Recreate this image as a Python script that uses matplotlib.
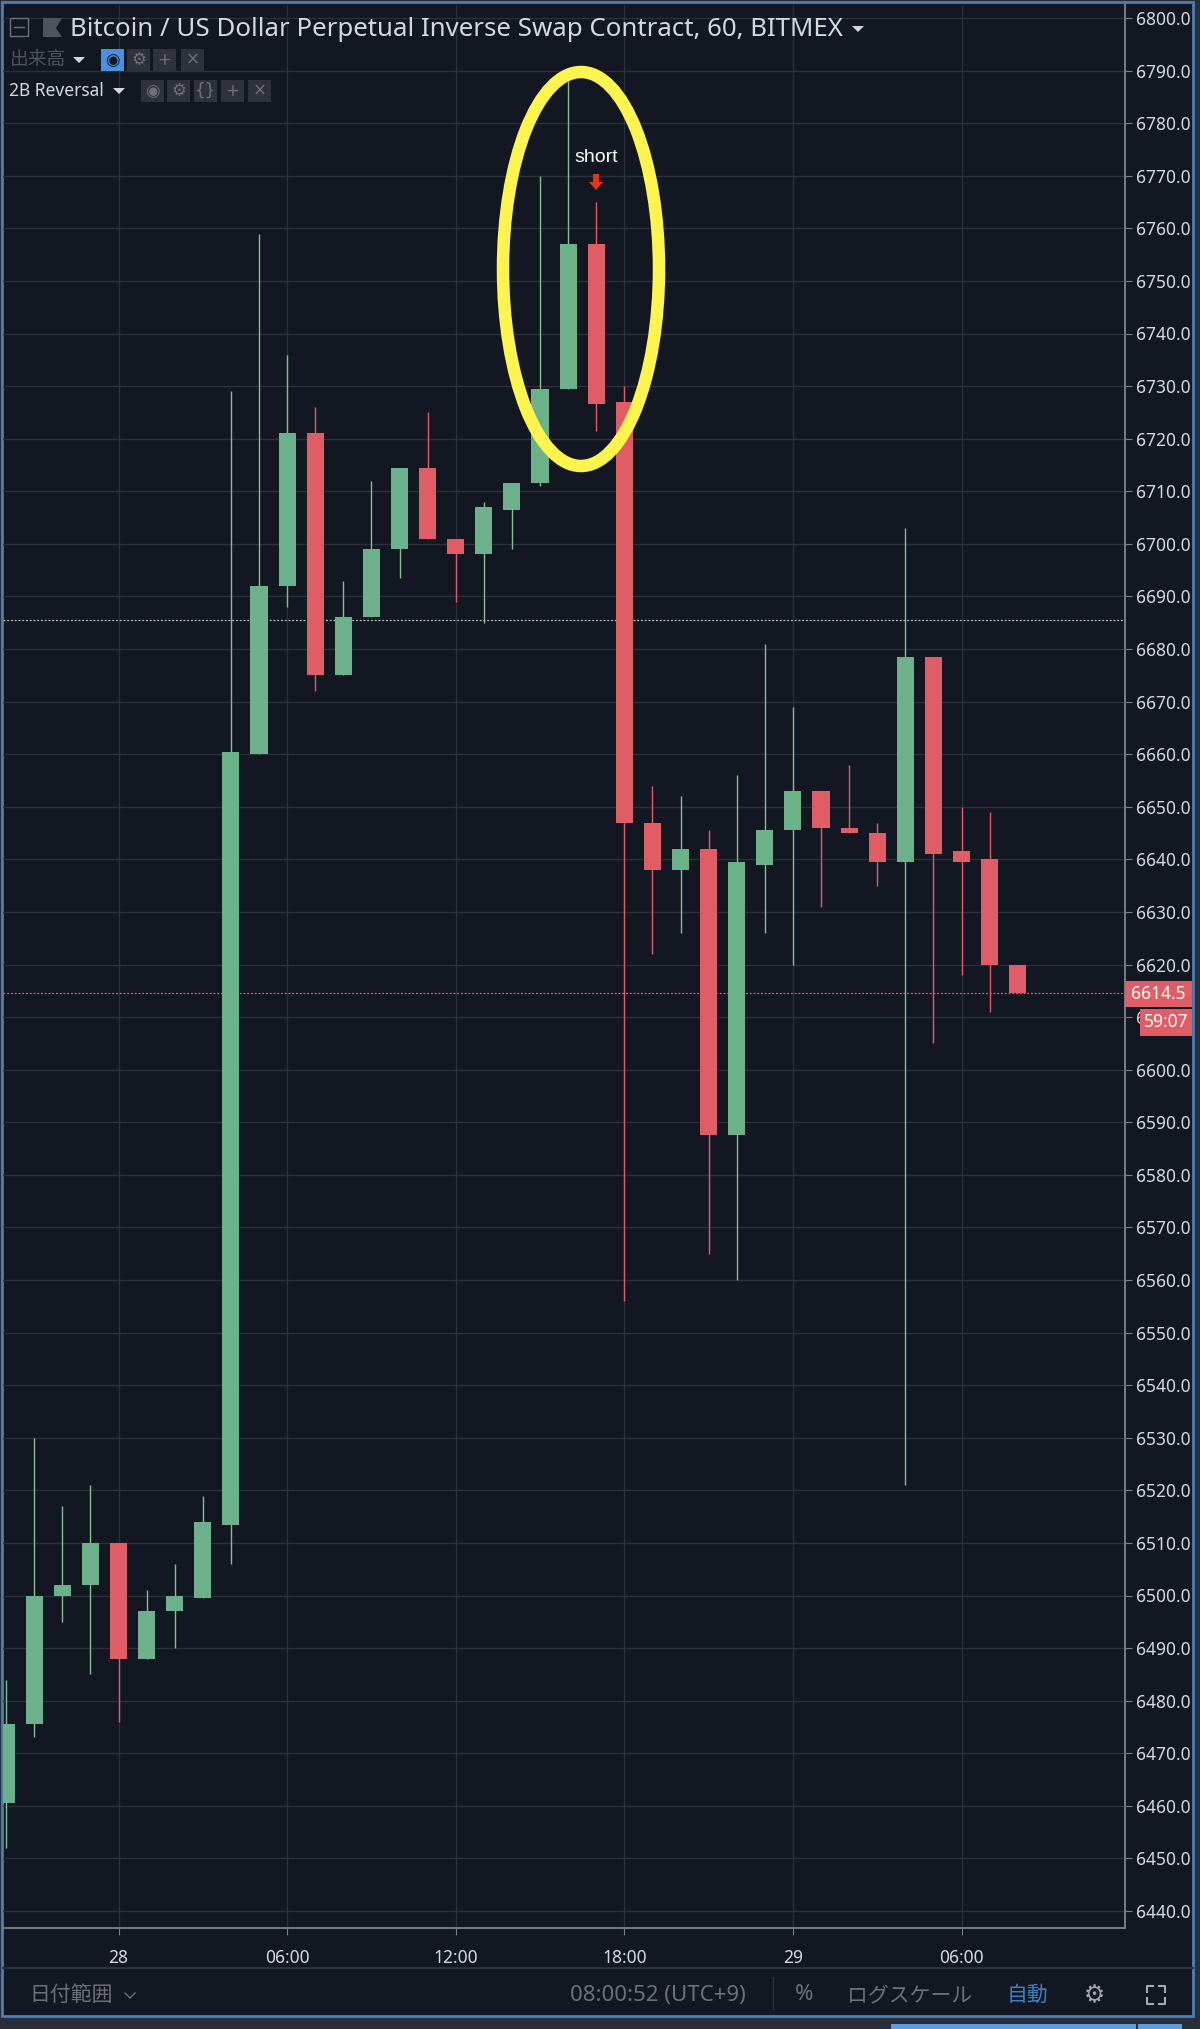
import matplotlib
matplotlib.use("Agg")
import matplotlib.pyplot as plt
from matplotlib.patches import Ellipse, Rectangle, Polygon

# hours counted from the "28" tick
hours = list(range(-4, 33))
opens = [6460.5, 6475.5, 6500, 6502, 6510, 6488, 6497, 6499.5, 6513.5, 6660, 6692, 6721, 6675, 6686, 6699, 6714.5, 6701, 6698, 6706.5,
         6711.5, 6729.5, 6757, 6727, 6647, 6638, 6642, 6587.5, 6639, 6645.5, 6653, 6646, 6645, 6639.5, 6678.5, 6641.5, 6640, 6620]
closes = [6475.5, 6500, 6502, 6510, 6488, 6497, 6500, 6514, 6660.5, 6692, 6721, 6675, 6686, 6699, 6714.5, 6701, 6698, 6707, 6711.5,
          6729.5, 6757, 6726.5, 6647, 6638, 6642, 6587.5, 6639.5, 6645.5, 6653, 6646, 6645, 6639.5, 6678.5, 6641, 6639.5, 6620, 6614.5]
highs = [6484, 6530, 6517, 6521, 6510, 6501, 6506, 6519, 6729, 6759, 6736, 6726, 6693, 6712, 6714.5, 6725, 6701, 6708, 6711.5,
         6770, 6788, 6765, 6730, 6654, 6652, 6645.5, 6656, 6681, 6669, 6653, 6658, 6647, 6703, 6678.5, 6650, 6649, 6620]
lows = [6452, 6473, 6495, 6485, 6476, 6488, 6490, 6499.5, 6506, 6660, 6688, 6672, 6675, 6686, 6693.5, 6701, 6689, 6685, 6699,
        6711, 6729.5, 6721.5, 6556, 6622, 6626, 6565, 6560, 6626, 6620, 6631, 6645, 6635, 6521, 6605, 6618, 6611, 6614.5]
price_ticks = list(range(6440, 6801, 10))
time_ticks = [0, 6, 12, 18, 24, 30]
time_labels = ["28", "06:00", "12:00", "18:00", "29", "06:00"]
last_price = 6614.5
high_line = 6685.5

BG = "#131722"
GRID = "#2c303b"
GREEN = "#6bb28a"
WICK_GREEN = "#86bd8e"
RED = "#e05d65"
TEXT = "#d6d8de"
DIM = "#6d7079"
BTN = "#2f323d"
JP = ["Noto Sans CJK JP", "DejaVu Sans"]
SANS = ["Noto Sans", "DejaVu Sans"]

W, H = 1200, 2029
fig = plt.figure(figsize=(W / 100, H / 100), dpi=100, facecolor="#2a2e39")

# panel behind everything, chrome goes in pixel coords
bg = fig.add_axes([0, 0, 1, 1], zorder=0)
bg.set_xlim(0, W)
bg.set_ylim(H, 0)
bg.axis("off")
bg.add_patch(Rectangle((2, 2), 1191, 2014, fc=BG, ec="#4a7fb5", lw=2))

L, R, T, B = 3, 1125, 5, 1928
ax = fig.add_axes([L / W, 1 - B / H, (R - L) / W, (B - T) / H], zorder=1)
ax.patch.set_alpha(0)
ppx = 28.1
x0 = 118.5
pxp = (1911 - 18) / 360
ax.set_xlim((L - x0) / ppx, (R - x0) / ppx)
ax.set_ylim(6440 - (B - 1911) / pxp, 6800 + (18 - T) / pxp)

ax.set_yticks(price_ticks)
ax.set_yticklabels(["%.1f" % p for p in price_ticks])
ax.set_xticks(time_ticks)
ax.set_xticklabels(time_labels)
ax.yaxis.tick_right()
ax.grid(True, color=GRID, lw=1.0)
ax.set_axisbelow(True)
ax.tick_params(axis="both", colors="#787b86", labelcolor=TEXT, length=5, width=0.8, labelsize=12.5, pad=3)
ax.tick_params(axis="x", pad=10)
for lab in ax.get_xticklabels() + ax.get_yticklabels():
    lab.set_fontfamily(SANS)
for s in ["top", "left"]:
    ax.spines[s].set_visible(False)
for s in ["right", "bottom"]:
    ax.spines[s].set_color("#787b86")
    ax.spines[s].set_linewidth(1.4)

ax.axhline(high_line, color="#b9bcc4", lw=0.9, ls=(0, (1.5, 1.5)), zorder=2)
ax.axhline(last_price, color=RED, lw=0.9, ls=(0, (1.5, 1.5)), zorder=2)

for h, o, c, hi, lo in zip(hours, opens, closes, highs, lows):
    up = c >= o
    ax.vlines(h, lo, hi, color=WICK_GREEN if up else RED, lw=1.0, zorder=3)
    ax.bar(h, abs(c - o), bottom=min(o, c), width=0.61, color=GREEN if up else RED, zorder=4)

# overlay for labels, ellipse and toolbar
ov = fig.add_axes([0, 0, 1, 1], zorder=2)
ov.set_xlim(0, W)
ov.set_ylim(H, 0)
ov.axis("off")
ov.patch.set_alpha(0)

ov.add_patch(Ellipse((581, 269), 156, 394, fc="none", ec="#fdf54e", lw=9))
ov.text(596, 158, "short", color="white", fontsize=14, family="Liberation Sans", ha="center", va="center")
ov.add_patch(Polygon([(593, 174), (599, 174), (599, 182), (603, 182), (596, 190), (589, 182), (593, 182)], fc="#e8321f", ec="none"))

# last price tags
ov.add_patch(Rectangle((1125, 981), 67, 26, fc=RED, ec="none"))
ov.text(1158, 994, "6614.5", color="white", fontsize=12.5, family="Noto Sans", ha="center", va="center")
ov.add_patch(Rectangle((1140, 1009), 52, 27, fc=RED, ec="none"))
ov.text(1166, 1022, "59:07", color="white", fontsize=12.5, family="Noto Sans", ha="center", va="center")

# header
ov.add_patch(Rectangle((10, 18), 18, 18, fc="none", ec=DIM, lw=1))
ov.plot([14, 24], [27, 27], color=DIM, lw=1)
ov.add_patch(Polygon([(43, 18), (62, 18), (56, 28), (62, 37), (43, 37)], fc="#50535e", ec="none"))
ov.text(70, 29, "Bitcoin / US Dollar Perpetual Inverse Swap Contract, 60, BITMEX", color=TEXT,
        fontsize=18.6, family=SANS, ha="left", va="center")
ov.add_patch(Polygon([(852, 26), (864, 26), (858, 32)], fc=TEXT, ec="none"))

ov.text(10, 60, "出来高", color="#50535e", fontsize=13.5, family=JP, ha="left", va="center")
ov.add_patch(Polygon([(73, 57), (85, 57), (79, 63)], fc=TEXT, ec="none"))
ov.text(9, 91, "2B Reversal", color=TEXT, fontsize=12.5, family=SANS, ha="left", va="center")
ov.add_patch(Polygon([(113, 88), (125, 88), (119, 94)], fc=TEXT, ec="none"))


def button(x, y, label, fc=BTN, col="#6d7079"):
    ov.add_patch(Rectangle((x, y), 23, 22, fc=fc, ec="none"))
    ov.text(x + 11.5, y + 11, label, color=col, fontsize=12, family="DejaVu Sans", ha="center", va="center")


for x, lab in zip([127, 153, 181], ["⚙", "+", "×"]):
    button(x, 49, lab)
button(101, 49, "◉", fc="#4a90e2", col="#131722")
for x, lab in zip([141, 167, 194, 221, 248], ["◉", "⚙", "{}", "+", "×"]):
    button(x, 80, lab)

# bottom bar
ov.plot([3, 1193], [1968, 1968], color=GRID, lw=1.5)
ov.plot([773, 773], [1977, 2010], color=GRID, lw=1)
ov.text(29, 1995, "日付範囲", color=DIM, fontsize=15, family=JP, ha="left", va="center")
ov.plot([125, 130, 135], [1993, 1998, 1993], color=DIM, lw=1)
ov.text(658, 1995, "08:00:52 (UTC+9)", color=DIM, fontsize=16, family=SANS, ha="center", va="center")
ov.text(804, 1995, "%", color=DIM, fontsize=16, family=SANS, ha="center", va="center")
ov.text(910, 1995, "ログスケール", color=DIM, fontsize=15, family=JP, ha="center", va="center")
ov.text(1028, 1995, "自動", color="#3d7fc9", fontsize=15, family=JP, ha="center", va="center")
ov.text(1094, 1995, "⚙", color="#a5a8b0", fontsize=17, family="DejaVu Sans", ha="center", va="center")
for xs, ys in [([1147, 1147, 1153], [1992, 1986, 1986]), ([1159, 1165, 1165], [1986, 1986, 1992]),
               ([1147, 1147, 1153], [1998, 2004, 2004]), ([1159, 1165, 1165], [2004, 2004, 1998])]:
    ov.plot(xs, ys, color="#a5a8b0", lw=1.5)

# corner of the button cut off below the panel
ov.add_patch(Rectangle((891, 2024), 245, 5, fc="#5b9cdc", ec="none"))
ov.add_patch(Rectangle((1138, 2024), 44, 5, fc="#5b9cdc", ec="none"))

fig.savefig("out.png", dpi=100, facecolor=fig.get_facecolor())
